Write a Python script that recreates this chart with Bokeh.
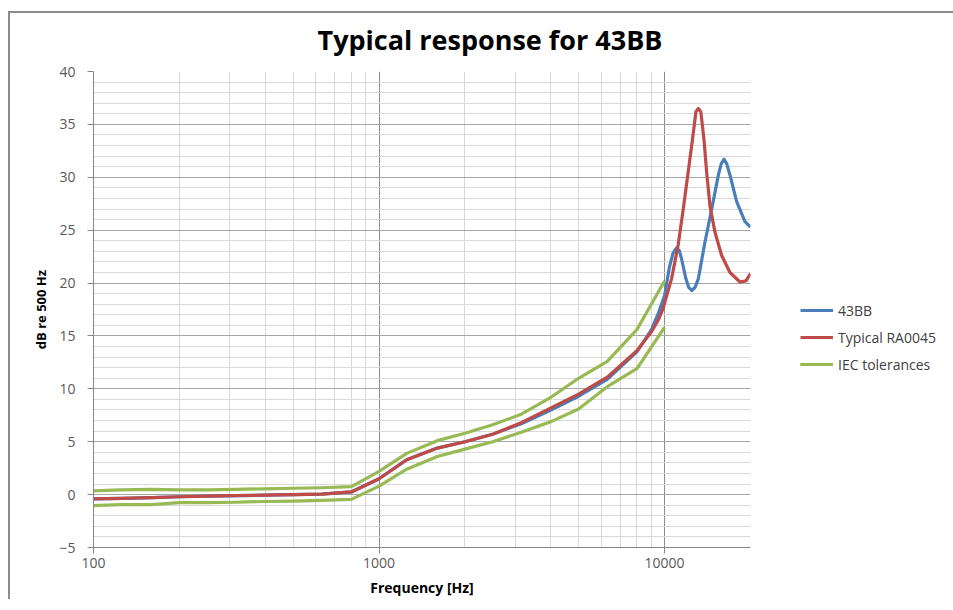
from bokeh.plotting import figure
from bokeh.models import FixedTicker, PrintfTickFormatter, Legend, LegendItem, Range1d
from bokeh.embed import file_html
from bokeh.resources import INLINE

# ---------------- data ----------------
title_text = "Typical response for 43BB"
x_label = "Frequency [Hz]"
y_label = "dB re 500 Hz"
series_names = ["43BB", "Typical RA0045", "IEC tolerances"]

x_major_ticks = [100, 1000, 10000]
x_minor_ticks = [200, 300, 400, 500, 600, 700, 800, 900,
                 2000, 3000, 4000, 5000, 6000, 7000, 8000, 9000, 20000]
y_major_ticks = [-5, 0, 5, 10, 15, 20, 25, 30, 35, 40]
y_minor_ticks = list(range(-5, 41))

f_43bb = [100, 125, 160, 200, 250, 315, 400, 500, 630, 800, 1000, 1250, 1600,
          2000, 2500, 3150, 4000, 5000, 6300, 8000, 9000, 9500, 10000, 10400,
          10700, 11000, 11250, 11470, 11880, 12150, 12450, 12800, 13130, 13860,
          14630, 15430, 15800, 16150, 16500, 16950, 17890, 19130, 20000]
db_43bb = [-0.4, -0.35, -0.28, -0.2, -0.15, -0.1, -0.05, 0.0, 0.05, 0.25, 1.5,
           3.3, 4.4, 5.0, 5.7, 6.7, 8.0, 9.3, 10.9, 13.5, 15.6, 17.1, 18.8,
           21.5, 22.8, 23.3, 23.1, 22.3, 20.4, 19.6, 19.3, 19.6, 20.4, 23.9,
           27.0, 30.2, 31.3, 31.7, 31.3, 30.2, 27.7, 25.8, 25.3]

f_ra0045 = [100, 125, 160, 200, 250, 315, 400, 500, 630, 800, 1000, 1250, 1600,
            2000, 2500, 3150, 4000, 5000, 6300, 8000, 9000, 9550, 9880, 10580,
            11160, 11630, 12100, 12530, 12880, 13130, 13400, 13740, 14040,
            14420, 15020, 15850, 16950, 18370, 19280, 20000]
db_ra0045 = [-0.4, -0.35, -0.28, -0.2, -0.15, -0.1, -0.05, 0.0, 0.05, 0.25,
             1.5, 3.3, 4.4, 5.0, 5.7, 6.8, 8.2, 9.5, 11.1, 13.6, 15.4, 16.6,
             17.6, 20.4, 23.6, 27.0, 30.5, 33.6, 36.2, 36.5, 36.2, 33.6, 30.5,
             27.3, 24.8, 22.6, 21.0, 20.1, 20.2, 20.9]

f_iec = [100, 125, 160, 200, 250, 315, 400, 500, 630, 800, 1000, 1250, 1600,
         2000, 2500, 3150, 4000, 5000, 6300, 8000, 10000]
db_iec_upper = [0.35, 0.45, 0.5, 0.45, 0.45, 0.5, 0.55, 0.6, 0.65, 0.75, 2.2,
                3.9, 5.1, 5.8, 6.6, 7.6, 9.2, 11.0, 12.6, 15.6, 20.2]
db_iec_lower = [-1.05, -0.95, -0.95, -0.75, -0.75, -0.72, -0.65, -0.62, -0.55,
                -0.45, 0.8, 2.4, 3.6, 4.3, 5.0, 5.9, 6.9, 8.1, 10.2, 11.9, 15.8]

# ---------------- styles ----------------
BLUE = "#4a7ebb"
RED = "#be4b48"
GREEN = "#98b954"
FONT = "Open Sans"
FRAME_GRAY = "#8c8c8c"

p = figure(x_axis_type="log",
           x_range=Range1d(100, 20000), y_range=Range1d(-5, 40),
           frame_width=657, frame_height=476,
           min_border_left=85, min_border_right=202,
           min_border_top=60, min_border_bottom=40,
           output_backend="svg", toolbar_location=None,
           background_fill_color="white", border_fill_alpha=0)
# chart-area border (top and left edges) drawn behind the transparent border area
p.styles = {
    "margin-top": "5px", "margin-left": "8px",
    "background": (f"linear-gradient({FRAME_GRAY},{FRAME_GRAY}) 0px 6px / 100% 2px no-repeat, "
                   f"linear-gradient({FRAME_GRAY},{FRAME_GRAY}) 0px 6px / 2px 100% no-repeat, white"),
}

p.title.text = title_text
p.title.align = "left"
p.title.offset = 224
p.title.text_font = FONT
p.title.text_font_size = "27px"
p.title.text_font_style = "bold"
p.title.text_color = "#000000"
p.title.standoff = 27

p.outline_line_color = None

# x axis
p.xaxis.ticker = FixedTicker(ticks=x_major_ticks, minor_ticks=x_minor_ticks)
p.xaxis.formatter = PrintfTickFormatter(format="%d")
p.xaxis.axis_label = x_label
# y axis
p.yaxis.ticker = FixedTicker(ticks=y_major_ticks, minor_ticks=y_minor_ticks)
p.yaxis.axis_label = y_label

for ax in (p.xaxis[0], p.yaxis[0]):
    ax.axis_line_color = "#868686"
    ax.major_tick_line_color = "#868686"
    ax.major_tick_out = 6
    ax.major_tick_in = 0
    ax.minor_tick_out = 0
    ax.minor_tick_in = 0
    ax.major_label_text_font = FONT
    ax.major_label_text_font_size = "14px"
    ax.major_label_text_color = "#595959"
    ax.axis_label_text_font = FONT
    ax.axis_label_text_font_style = "bold"
    ax.axis_label_text_color = "#000000"

p.xaxis.major_label_standoff = 4
p.xaxis.axis_label_standoff = 7
p.xaxis.axis_label_text_font_size = "14px"
p.yaxis.major_label_standoff = 12
p.yaxis.axis_label_standoff = 6
p.yaxis.axis_label_text_font_size = "13px"

p.xgrid.grid_line_color = "#8c8c8c"
p.xgrid.minor_grid_line_color = "#d9d9d9"
p.ygrid.grid_line_color = "#a6a6a6"
p.ygrid.minor_grid_line_color = "#d9d9d9"
p.xgrid.grid_line_width = 1
p.ygrid.grid_line_width = 1

LW = 3.2
r_blue = p.line(f_43bb, db_43bb, line_color=BLUE, line_width=LW, line_join="round")
r_red = p.line(f_ra0045, db_ra0045, line_color=RED, line_width=LW, line_join="round")
r_up = p.line(f_iec, db_iec_upper, line_color=GREEN, line_width=LW, line_join="round")
r_lo = p.line(f_iec, db_iec_lower, line_color=GREEN, line_width=LW, line_join="round")

legend = Legend(items=[LegendItem(label=series_names[0], renderers=[r_blue]),
                       LegendItem(label=series_names[1], renderers=[r_red]),
                       LegendItem(label=series_names[2], renderers=[r_up, r_lo])],
                location=(50, 173), padding=0, margin=0, spacing=7,
                glyph_width=33, glyph_height=20, label_height=20,
                label_standoff=5, border_line_color=None,
                background_fill_alpha=0,
                label_text_font=FONT, label_text_font_size="14px",
                label_text_color="#404040")
p.add_layout(legend, "right")

open("out.html", "w").write(file_html(p, INLINE))
